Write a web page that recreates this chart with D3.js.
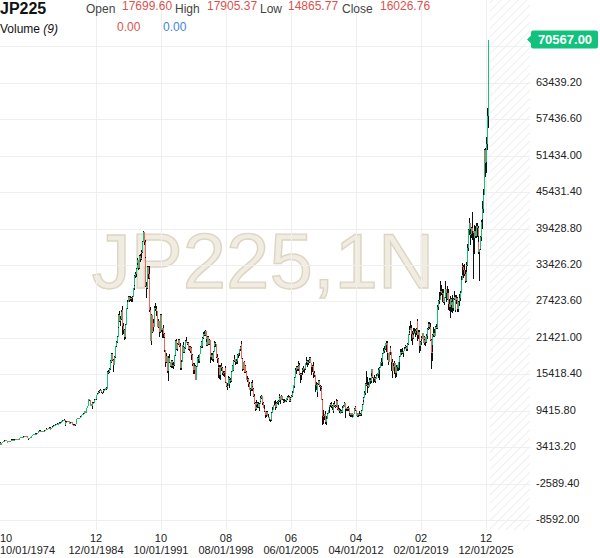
<!DOCTYPE html>
<html>
<head>
<meta charset="utf-8">
<script src="https://cdn.jsdelivr.net/npm/d3@7"></script>
<style>
  body { margin: 0; background: #fff; }
  svg { display: block; font-family: "Liberation Sans", Arial, sans-serif; }
</style>
</head>
<body>
<div id="chart"></div>
<script>
// JP225 monthly candles, 10/1974 .. 03/2026

const startMonth = new Date(1974, 9, 1);
const firstOpen = 4000;

// monthly closes, one row per year
const closes = [
  4100, 3950, 3817,
  4100, 4250, 4400, 4450, 4480, 4540, 4480, 4100, 4220, 4400, 4300, 4359,
  4570, 4650, 4650, 4600, 4640, 4700, 4730, 4650, 4710, 4680, 4660, 4991,
  5020, 5040, 5120, 5150, 5100, 5170, 5240, 5180, 5050, 4880, 4750, 4866,
  5080, 5150, 5270, 5420, 5500, 5530, 5570, 5640, 5620, 5700, 5890, 6002,
  6150, 6020, 6080, 6000, 5930, 6070, 6120, 6180, 6400, 6450, 6390, 6570,
  6600, 6420, 6330, 6600, 6800, 6900, 6950, 7050, 7120, 7180, 7300, 7116,
  7340, 7440, 7440, 7690, 7760, 7790, 7900, 7880, 7050, 7620, 7600, 7682,
  7700, 7480, 7300, 7450, 7500, 7330, 7130, 7100, 6990, 7190, 7720, 8017,
  8160, 8200, 8180, 8380, 8450, 8700, 8900, 8900, 9290, 9310, 9100, 9894,
  10200, 10500, 11290, 11200, 10210, 10500, 10120, 10750, 10700, 11250, 11300, 11543,
  11990, 12250, 12580, 12450, 12720, 12880, 12460, 12420, 12700, 12890, 12910, 13113,
  13050, 13640, 15860, 15830, 16290, 17650, 17410, 18790, 17850, 16910, 18280, 18701,
  20020, 20760, 21570, 23270, 25180, 24180, 24490, 25720, 26010, 23330, 22690, 21564,
  23620, 24900, 26260, 27400, 28100, 27700, 28030, 27930, 27920, 28200, 29580, 30159,
  31580, 31990, 32840, 33710, 34270, 32950, 34950, 34430, 35640, 35550, 37270, 38916,
  37190, 34590, 29980, 29590, 33130, 31940, 31040, 25980, 20980, 25190, 22450, 23849,
  23290, 26410, 26290, 26110, 25790, 23290, 24120, 22340, 23920, 25220, 22690, 22984,
  22020, 21340, 19350, 17390, 18350, 15950, 15910, 18060, 17400, 16770, 17680, 16925,
  17020, 16950, 18590, 20920, 20550, 19590, 20380, 21030, 20110, 19700, 16410, 17417,
  20230, 19990, 19110, 19720, 20970, 20640, 20450, 20630, 19560, 19990, 19180, 19723,
  18650, 17050, 16140, 16810, 15440, 14520, 16680, 18120, 17910, 17650, 18740, 19868,
  20810, 20130, 21410, 22040, 21960, 22530, 20690, 20170, 21560, 20470, 21020, 19361,
  18330, 18560, 18000, 19150, 20070, 20600, 20330, 18230, 17890, 16460, 16630, 15259,
  16630, 16830, 16530, 15640, 15670, 15830, 16380, 14110, 13410, 13560, 14880, 13842,
  14500, 14370, 15840, 16700, 16110, 17530, 17860, 17440, 17600, 17940, 18560, 18934,
  19540, 19960, 20340, 17970, 16330, 17410, 15730, 16860, 15750, 14540, 14650, 13786,
  13840, 12880, 12990, 13930, 13260, 12970, 11860, 10710, 9770, 10370, 10700, 10543,
  9990, 10590, 11020, 11490, 11760, 10620, 9880, 9620, 9380, 8640, 9220, 8579,
  8340, 8360, 7970, 7830, 8420, 9080, 9560, 10340, 10220, 10560, 10100, 10677,
  10780, 11040, 11720, 11760, 11240, 11860, 11330, 11080, 10820, 10770, 11000, 11489,
  11390, 11740, 11670, 11010, 11280, 11580, 11900, 12410, 13570, 13610, 14870, 16111,
  16650, 16210, 17060, 16910, 15470, 15510, 15460, 16140, 16130, 16400, 16270, 17226,
  17380, 17600, 17290, 17400, 17880, 18140, 17250, 16570, 16790, 16740, 15680, 15308,
  13590, 13600, 12530, 13850, 14340, 13480, 13380, 13070, 11260, 8580, 8510, 8860,
  7990, 7570, 8110, 8830, 9520, 9960, 10360, 10490, 10130, 10030, 9350, 10546,
  10200, 10130, 11090, 11060, 9770, 9380, 9540, 8820, 9370, 9200, 9940, 10229,
  10240, 10620, 9760, 9850, 9690, 9820, 9830, 8960, 8700, 8990, 8430, 8455,
  8800, 9720, 10080, 9520, 8540, 9010, 8700, 8840, 8870, 8930, 9450, 10395,
  11140, 11560, 12400, 13860, 13770, 13680, 13670, 13390, 14460, 14330, 15660, 16291,
  14910, 14840, 14830, 14300, 14630, 15160, 15620, 15420, 16170, 16410, 17460, 17451,
  17670, 18800, 19210, 19520, 20560, 20240, 20590, 18890, 17390, 19080, 19750, 19034,
  17520, 16027, 16760, 16670, 17230, 15580, 16570, 16890, 16450, 17430, 18310, 19114,
  19040, 19120, 18910, 19200, 19650, 20030, 19930, 19650, 20360, 22010, 22720, 22765,
  23100, 22070, 21450, 22470, 22200, 22300, 22550, 22870, 24120, 21920, 22350, 20015,
  20770, 21390, 21210, 22260, 20600, 21280, 21520, 20700, 21760, 22930, 23290, 23657,
  23210, 21140, 18920, 20190, 21880, 22290, 21710, 23140, 23190, 22980, 26430, 27444,
  27660, 28970, 29180, 28810, 28860, 28790, 27280, 28090, 29450, 28890, 27820, 28792,
  27000, 26530, 27820, 26850, 27280, 26390, 27800, 28090, 25940, 27590, 27970, 26095,
  27330, 27450, 28040, 28860, 30890, 33190, 33170, 32620, 31860, 30860, 33490, 33464,
  36290, 39170, 40370, 38410, 38490, 39580, 39100, 38650, 37920, 39080, 38210, 39895,
  39570, 37160, 35620, 36050, 37970, 40490, 41070, 42720, 44930, 52410, 50250, 50340,
  53300, 58000, 70567
];

const highs = [
  4150, 4200, 3980,
  4120, 4300, 4450, 4520, 4560, 4600, 4570, 4500, 4260, 4430, 4420, 4400,
  4600, 4700, 4720, 4680, 4680, 4740, 4790, 4750, 4740, 4730, 4720, 5000,
  5080, 5100, 5160, 5200, 5190, 5200, 5280, 5260, 5200, 5070, 4900, 4900,
  5100, 5180, 5300, 5450, 5540, 5580, 5620, 5680, 5680, 5740, 5910, 6050,
  6180, 6170, 6120, 6100, 6030, 6100, 6160, 6230, 6430, 6500, 6470, 6600,
  6660, 6650, 6460, 6620, 6830, 6940, 7010, 7080, 7180, 7240, 7350, 7320,
  7370, 7480, 7520, 7720, 7800, 7850, 7950, 8019, 7900, 7680, 7700, 7740,
  7760, 7720, 7500, 7500, 7560, 7520, 7360, 7180, 7150, 7220, 7760, 8050,
  8200, 8250, 8260, 8410, 8500, 8740, 8950, 8980, 9320, 9420, 9350, 9900,
  10250, 10560, 11300, 11340, 11230, 10560, 10520, 10780, 10850, 11300, 11400, 11600,
  12050, 12300, 12620, 12650, 12780, 12950, 12900, 12550, 12760, 12950, 13050, 13150,
  13300, 13700, 15900, 16200, 16500, 17700, 18000, 18900, 18940, 17900, 18350, 18900,
  20100, 20900, 21700, 24000, 25300, 25900, 25100, 26000, 26200, 26646, 23900, 22900,
  23700, 25000, 26400, 27600, 28250, 28350, 28300, 28200, 28100, 28300, 29700, 30200,
  31700, 32300, 32900, 33800, 34500, 34300, 35000, 35300, 35700, 35900, 37300, 38957,
  38700, 37500, 34700, 30600, 33300, 33200, 33300, 31200, 26500, 25300, 25100, 24600,
  24200, 26600, 27146, 26600, 26300, 25900, 24500, 24200, 24100, 25300, 25300, 23100,
  23600, 22200, 21500, 19400, 18900, 18400, 16100, 18400, 18700, 17500, 17800, 17700,
  17300, 17400, 18600, 21000, 21200, 20600, 20500, 21300, 21150, 20600, 19800, 17800,
  20300, 20700, 20000, 19900, 21000, 21550, 20800, 20800, 20700, 20000, 20100, 19800,
  19900, 18800, 17300, 17200, 16900, 15500, 16800, 18300, 18600, 18100, 18800, 20000,
  20900, 21100, 21500, 22400, 22500, 22666, 22600, 21300, 21700, 21800, 21200, 21100,
  19500, 19000, 18900, 19300, 20500, 20900, 20800, 20400, 18700, 18100, 17000, 16900,
  16900, 17300, 17100, 16600, 16000, 15900, 16800, 16500, 14200, 14000, 15200, 14900,
  14600, 14800, 16000, 17000, 16900, 17700, 18600, 18000, 17900, 18000, 18800, 19000,
  19600, 20100, 20600, 20833, 18100, 17500, 17600, 17000, 16900, 16000, 15100, 14800,
  14200, 14000, 13200, 14200, 14500, 13500, 13100, 12100, 10800, 10800, 11100, 10800,
  10900, 10700, 11900, 11600, 12000, 11800, 10800, 10400, 10000, 9400, 9300, 9300,
  8800, 8600, 8400, 8100, 8500, 9200, 10000, 10400, 11000, 11200, 10600, 10800,
  11000, 11100, 11800, 12200, 11800, 12000, 11900, 11400, 11300, 11300, 11200, 11500,
  11500, 11800, 12000, 11900, 11300, 11600, 11950, 12600, 13600, 13900, 14900, 16400,
  16800, 16800, 17100, 17600, 17300, 15600, 15600, 16300, 16400, 16800, 16500, 17300,
  17600, 18300, 17700, 17700, 17900, 18300, 18262, 17300, 16900, 17400, 16800, 16000,
  15300, 14200, 13600, 13900, 14400, 14500, 13700, 13500, 13100, 11300, 9500, 8900,
  9300, 8100, 8600, 9000, 9600, 10200, 10400, 10700, 10800, 10300, 10100, 10700,
  10990, 10400, 11100, 11400, 11100, 10300, 9800, 9600, 9700, 9600, 10200, 10300,
  10600, 10900, 10700, 9900, 10050, 9900, 10200, 9900, 9100, 9100, 9100, 8700,
  8900, 9800, 10250, 10200, 9600, 9100, 9100, 9200, 9300, 9100, 9500, 10450,
  11200, 11700, 12600, 13900, 15942, 13800, 14900, 14100, 14800, 14800, 15700, 16320,
  16300, 14900, 15300, 14900, 14700, 15400, 15700, 15800, 16400, 16600, 17500, 18030,
  17900, 18850, 19800, 20100, 20600, 20950, 20800, 20946, 18900, 19100, 20000, 20000,
  19000, 17905, 17300, 17600, 17300, 17000, 16900, 17000, 17000, 17500, 18400, 19600,
  19600, 19500, 19700, 19300, 19900, 20300, 20200, 20100, 20500, 22100, 23400, 23000,
  24129, 23600, 22500, 22500, 23050, 23000, 22800, 23000, 24200, 24448, 22700, 22700,
  20900, 21500, 21800, 22300, 22300, 21400, 21800, 21500, 22100, 23000, 23600, 24100,
  24100, 23900, 21300, 20400, 22000, 23200, 22900, 23300, 23600, 23700, 26800, 27600,
  28900, 30714, 30500, 30200, 29500, 29500, 28900, 28200, 30795, 29500, 29950, 29100,
  29400, 27800, 28300, 28000, 27500, 28400, 28000, 29200, 28500, 27600, 28500, 28200,
  27500, 27600, 28600, 29100, 31600, 33800, 33500, 33400, 33600, 32600, 33900, 33900,
  36900, 39400, 41088, 40300, 39400, 39700, 42224, 38800, 39000, 40000, 39900, 40400,
  40300, 39900, 38200, 36100, 38200, 40800, 42000, 43900, 45900, 52500, 52636, 51000,
  54500, 59300, 70567
];

const lows = [
  3355, 3900, 3760,
  3800, 4080, 4220, 4350, 4400, 4440, 4420, 4050, 4050, 4200, 4250, 4250,
  4350, 4550, 4600, 4550, 4560, 4620, 4680, 4600, 4620, 4640, 4620, 4650,
  4950, 4980, 5020, 5080, 5060, 5090, 5150, 5130, 5000, 4840, 4600, 4700,
  4860, 5060, 5140, 5260, 5400, 5470, 5500, 5560, 5580, 5600, 5690, 5870,
  6000, 5980, 5990, 5960, 5880, 5920, 6040, 6100, 6170, 6380, 6300, 6380,
  6540, 6380, 6260, 6320, 6580, 6780, 6860, 6920, 7020, 7080, 7150, 7060,
  7100, 7320, 7380, 7430, 7600, 7700, 7750, 7800, 6950, 7050, 7500, 7550,
  7600, 7420, 7200, 7260, 7400, 7280, 7100, 6950, 6900, 6849, 7180, 7700,
  7980, 8100, 8120, 8170, 8360, 8440, 8680, 8820, 8880, 9200, 9050, 9100,
  9850, 10150, 10480, 11050, 10150, 10180, 9700, 10100, 10600, 10680, 11150, 11250,
  11500, 11950, 12200, 12350, 12400, 12650, 12400, 12200, 12350, 12550, 12750, 12850,
  12900, 13000, 13600, 15400, 15700, 16200, 17200, 17300, 17600, 15820, 16900, 18100,
  18700, 19900, 20500, 21500, 23000, 24000, 23300, 24400, 25300, 21910, 22000, 21000,
  21200, 23500, 24800, 26200, 27300, 27300, 27500, 27600, 27400, 27300, 28100, 29300,
  29900, 31300, 31500, 32700, 33500, 32600, 32800, 34000, 34200, 34600, 35400, 37200,
  36800, 33400, 29800, 28000, 29500, 31100, 30500, 25600, 20900, 20221, 22300, 22400,
  22600, 23400, 25800, 25500, 25100, 23200, 23000, 21500, 22300, 23800, 22400, 21400,
  21400, 20900, 19100, 16600, 17300, 15700, 15100, 14309, 17200, 16600, 16400, 16700,
  16500, 16300, 16800, 18500, 19800, 19400, 19300, 20200, 19900, 19500, 16200, 16100,
  17400, 19100, 18900, 19000, 19600, 20500, 20200, 20300, 19400, 19300, 19000, 18900,
  17800, 16800, 15400, 15400, 15300, 14485, 14700, 16600, 17300, 17200, 17500, 18700,
  19800, 19900, 19800, 21200, 21700, 21800, 20500, 20000, 20000, 20300, 20200, 19200,
  17300, 17800, 17600, 17500, 19100, 19900, 19900, 18100, 17300, 16300, 14800, 14700,
  14500, 16200, 16000, 15300, 15100, 14900, 15700, 14000, 13300, 12787, 13500, 13700,
  13200, 13900, 14200, 15800, 15900, 16000, 17400, 17000, 17100, 17100, 17900, 18100,
  18500, 19300, 19500, 17900, 16000, 16200, 15700, 15600, 15600, 14400, 14200, 13400,
  13000, 12800, 11800, 12700, 13100, 12600, 11700, 10600, 9380, 9500, 10100, 9900,
  9900, 9420, 10500, 10900, 11300, 10400, 9800, 9400, 9200, 8200, 8300, 8500,
  8300, 8200, 7800, 7603, 7800, 8400, 9000, 9500, 10200, 10200, 9600, 9900,
  10500, 10400, 10900, 11500, 10500, 11100, 11100, 10700, 10800, 10700, 10800, 10800,
  11200, 11300, 11600, 10900, 10800, 11200, 11500, 11700, 12300, 13100, 13600, 14900,
  15400, 15900, 15900, 16700, 15300, 14000, 14400, 15300, 15500, 15800, 15700, 16200,
  16900, 17300, 16600, 17000, 17200, 17800, 17200, 15300, 15800, 16500, 14800, 15000,
  12500, 12800, 11700, 12500, 13600, 13400, 12700, 12600, 11200, 6995, 7200, 7900,
  7700, 7200, 7054, 8000, 8800, 9400, 9000, 10100, 9900, 9600, 9000, 9300,
  10100, 9900, 10100, 10900, 9500, 9300, 9000, 8800, 8800, 9000, 9100, 9900,
  10100, 10200, 8227, 9400, 9300, 9300, 9800, 8600, 8350, 8400, 8150, 8200,
  8300, 8800, 9700, 9400, 8500, 8300, 8300, 8600, 8700, 8500, 8600, 9400,
  10400, 10900, 11500, 12000, 13500, 12400, 13600, 13200, 13400, 13800, 14000, 15100,
  14800, 13900, 14200, 13900, 13900, 14600, 15100, 14800, 15400, 14500, 16400, 16700,
  16800, 17600, 18700, 19000, 19400, 20000, 19100, 17700, 16900, 17400, 19000, 18600,
  16000, 14866, 15900, 15500, 16100, 14800, 15000, 16000, 16000, 16300, 16100, 18200,
  18600, 18800, 18900, 18200, 19200, 19600, 19800, 19200, 19200, 20300, 21900, 22300,
  22700, 20900, 20300, 21200, 21900, 22000, 21500, 21850, 22500, 20970, 21200, 18948,
  19200, 20300, 20900, 21300, 20500, 20300, 21000, 20100, 20600, 21300, 22700, 23000,
  22900, 20900, 16358, 17600, 19100, 21500, 21500, 21700, 22900, 22900, 22900, 26000,
  27000, 27600, 28300, 28400, 27400, 27800, 27100, 26900, 28000, 27300, 27600, 27600,
  26000, 25800, 24700, 26300, 25700, 25500, 25900, 27600, 25600, 25600, 27000, 25700,
  25700, 27000, 26600, 27500, 28800, 31000, 31800, 31200, 31600, 30500, 30600, 32200,
  33200, 35800, 38300, 36700, 37600, 37900, 37600, 31156, 35200, 37600, 37800, 37900,
  38000, 36800, 35300, 30792, 35900, 37400, 39300, 40300, 42000, 44900, 48000, 48500,
  50000, 52300, 56000
];

const priceTicks = [-8592.00, -2589.40, 3413.20, 9415.80, 15418.40, 21421.00, 27423.60,
  33426.20, 39428.80, 45431.40, 51434.00, 57436.60, 63439.20, 69441.80];
const dateTicks = ["1974-10-01", "1984-12-01", "1991-10-01", "1998-08-01",
  "2005-06-01", "2012-04-01", "2019-02-01", "2025-12-01"];
const lastPrice = 70567.00;

const headerFields = ["Open", "High", "Low", "Close"];
const headerValues = ["17699.60", "17905.37", "14865.77", "16026.76"];
const volumeValues = ["0.00", "0.00"];

const width = 600, height = 558;
const plotRight = 490, axisLeft = 530, plotBottom = 530;
const green = "#12c27c", red = "#f2645a";

const svg = d3.select("#chart").append("svg")
  .attr("width", width).attr("height", height);

const parse = d3.timeParse("%Y-%m-%d");
const x = d3.scaleTime()
  .domain([new Date(1984, 11, 1), new Date(2025, 11, 1)])
  .range([96, 486]);
const y = d3.scaleLinear()
  .domain([-8592, 69441.8])
  .range([520, 46.4]);

// hatched future area
const defs = svg.append("defs");
const pat = defs.append("pattern").attr("id", "hatch")
  .attr("patternUnits", "userSpaceOnUse").attr("width", 6).attr("height", 6)
  .attr("patternTransform", "rotate(45)");
pat.append("line").attr("x1", 0).attr("y1", 0).attr("x2", 0).attr("y2", 6)
  .attr("stroke", "#e4e4e4").attr("stroke-width", 1.2);
svg.append("rect").attr("x", plotRight).attr("y", 0)
  .attr("width", axisLeft - plotRight).attr("height", plotBottom)
  .attr("fill", "url(#hatch)");

// watermark
svg.append("text").attr("x", 263).attr("y", 288)
  .attr("text-anchor", "middle").attr("font-size", 78)
  .attr("fill", "#f0ece2").attr("stroke", "#ddd5c0").attr("stroke-width", 1.4)
  .text("JP225,1N");

// grid
const grid = svg.append("g").attr("shape-rendering", "crispEdges");
grid.selectAll("line.h").data(priceTicks).join("line").attr("class", "h")
  .attr("x1", 0).attr("x2", axisLeft)
  .attr("y1", d => Math.round(y(d)) + 0.5).attr("y2", d => Math.round(y(d)) + 0.5)
  .attr("stroke", "#efefef");
grid.selectAll("line.v").data(dateTicks.slice(1)).join("line").attr("class", "v")
  .attr("y1", 0).attr("y2", plotBottom)
  .attr("x1", d => Math.round(x(parse(d))) + 0.5).attr("x2", d => Math.round(x(parse(d))) + 0.5)
  .attr("stroke", "#efefef");

// candles
const candles = closes.map((c, i) => ({
  date: d3.timeMonth.offset(startMonth, i),
  open: i ? closes[i - 1] : firstOpen,
  high: highs[i], low: lows[i], close: c
}));

const cg = svg.append("g").attr("shape-rendering", "crispEdges")
  .selectAll("g").data(candles).join("g");
cg.append("rect")
  .attr("x", d => Math.floor(x(d.date)))
  .attr("y", d => y(Math.max(d.high, d.open, d.close)))
  .attr("width", 1)
  .attr("height", d => Math.max(1, y(Math.min(d.low, d.open, d.close)) - y(Math.max(d.high, d.open, d.close))))
  .attr("fill", "#111");
cg.append("rect")
  .attr("x", d => Math.floor(x(d.date)))
  .attr("y", d => y(Math.max(d.open, d.close)))
  .attr("width", 1)
  .attr("height", d => Math.max(1, y(Math.min(d.open, d.close)) - y(Math.max(d.open, d.close))))
  .attr("fill", d => d.close >= d.open ? green : red);

// last price tag position
const ty = y(lastPrice);

// price axis (the tick hidden behind the price tag is left unlabelled)
svg.append("g").selectAll("text")
  .data(priceTicks.filter(d => Math.abs(y(d) - ty) > 12)).join("text")
  .attr("x", 536).attr("y", d => y(d) + 3)
  .attr("font-size", 11).attr("fill", "#222")
  .text(d => d.toFixed(2));

// last price tag
svg.append("path")
  .attr("d", `M527,${ty} L531,${ty - 4} L531,${ty - 7} Q531,${ty - 9} 533,${ty - 9} L596,${ty - 9} Q598,${ty - 9} 598,${ty - 7} L598,${ty + 7} Q598,${ty + 9} 596,${ty + 9} L533,${ty + 9} Q531,${ty + 9} 531,${ty + 7} L531,${ty + 4} Z`)
  .attr("fill", green);
svg.append("text").attr("x", 565).attr("y", ty + 4.5)
  .attr("text-anchor", "middle").attr("font-size", 13).attr("font-weight", "bold")
  .attr("fill", "#fff").text(lastPrice.toFixed(2));

// time axis
const fmtM = d3.timeFormat("%m"), fmtD = d3.timeFormat("%m/%d/%Y");
const xl = svg.append("g").selectAll("g").data(dateTicks).join("g");
xl.append("text")
  .attr("x", (d, i) => i === 0 ? 0 : x(parse(d)))
  .attr("y", 541.5).attr("text-anchor", (d, i) => i === 0 ? "start" : "middle")
  .attr("font-size", 11).attr("fill", "#222")
  .text(d => fmtM(parse(d)));
xl.append("text")
  .attr("x", (d, i) => i === 0 ? 0 : x(parse(d)))
  .attr("y", 554).attr("text-anchor", (d, i) => i === 0 ? "start" : "middle")
  .attr("font-size", 11).attr("fill", "#222")
  .text(d => fmtD(parse(d)));

// header
svg.append("text").attr("x", 0).attr("y", 14)
  .attr("font-size", 16).attr("font-weight", "bold").attr("fill", "#111").text("JP225");
const labelX = [86, 175, 260, 342], valueX = [122, 207, 288, 380];
headerFields.forEach((f, i) => {
  svg.append("text").attr("x", labelX[i]).attr("y", 13)
    .attr("font-size", 12).attr("fill", "#444").text(f);
  svg.append("text").attr("x", valueX[i]).attr("y", 10)
    .attr("font-size", 12).attr("fill", "#d9534f").text(headerValues[i]);
});
const vol = svg.append("text").attr("x", 0).attr("y", 33).attr("font-size", 12).attr("fill", "#111");
vol.append("tspan").text("Volume ");
vol.append("tspan").attr("font-style", "italic").text("(9)");
svg.append("text").attr("x", 117).attr("y", 31).attr("font-size", 12)
  .attr("fill", "#d9534f").text(volumeValues[0]);
svg.append("text").attr("x", 163).attr("y", 31).attr("font-size", 12)
  .attr("fill", "#3d85e0").text(volumeValues[1]);
</script>
</body>
</html>
